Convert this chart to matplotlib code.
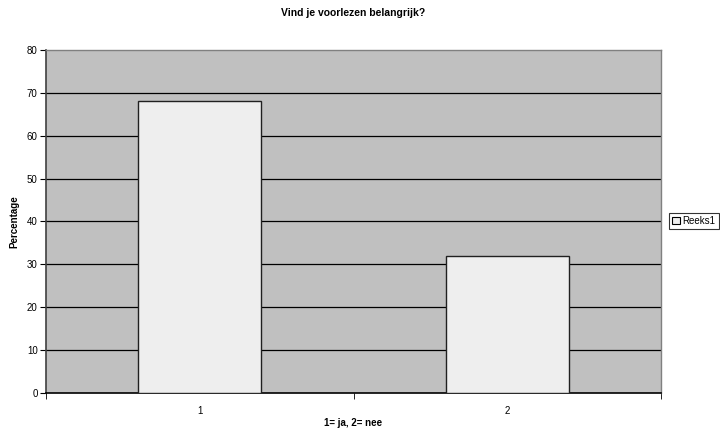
import matplotlib
matplotlib.use("Agg")
import matplotlib.pyplot as plt
from matplotlib.patches import Patch

plt.rcParams['font.family'] = ['Liberation Sans', 'DejaVu Sans']

categories = ["1", "2"]
values = [68, 32]
series_name = "Reeks1"
y_ticks = [0, 10, 20, 30, 40, 50, 60, 70, 80]

fig = plt.figure(figsize=(7.2, 4.32), dpi=100)
ax = fig.add_axes([46/720, 39/432, 615/720, 343/432])
ax.set_facecolor('#C0C0C0')

xpos = list(range(1, len(categories) + 1))
ax.bar(xpos, values, width=0.4, color='#EEEEEE', edgecolor='#202020',
       linewidth=1.0, zorder=3)

ax.set_xlim(0.5, len(categories) + 0.5)
ax.set_ylim(0, 80)
ax.set_yticks(y_ticks)
ax.set_yticklabels([str(v) for v in y_ticks], fontsize=7)
for v in y_ticks[1:-1]:
    ax.axhline(v, color='black', linewidth=0.9, zorder=1)

# category labels at centres, tick marks at boundaries
ax.set_xticks(xpos)
ax.set_xticklabels(categories, fontsize=7)
ax.tick_params(axis='x', length=0, pad=9)
ax.set_xticks([0.5 + i for i in range(len(categories) + 1)], minor=True)
ax.tick_params(axis='x', which='minor', length=4, direction='out', color='black')
ax.tick_params(axis='y', length=4, direction='out', pad=2)

for side in ['top', 'right']:
    ax.spines[side].set_color('#808080')
    ax.spines[side].set_linewidth(1.0)
ax.spines['left'].set_color('#404040')
ax.spines['left'].set_linewidth(1.2)
ax.spines['bottom'].set_color('black')
ax.spines['bottom'].set_linewidth(1.2)

fig.text(0.5 * (46 + 661) / 720, 1 - 13/432, "Vind je voorlezen belangrijk?",
         fontsize=7.5, fontweight='bold', ha='center', va='center')
fig.text(14/720, 1 - 222/432, "Percentage", fontsize=7, fontweight='bold',
         rotation=90, ha='center', va='center')
fig.text(0.5 * (46 + 661) / 720, 1 - 423/432, "1= ja, 2= nee", fontsize=7,
         fontweight='bold', ha='center', va='center')

handles = [Patch(facecolor='#EEEEEE', edgecolor='black', linewidth=0.8, label=series_name)]
leg = fig.legend(handles=handles, loc='center left', bbox_to_anchor=(669/720, 1 - 221/432),
                 fontsize=7, frameon=True, fancybox=False, handlelength=0.8, handleheight=0.8,
                 handletextpad=0.3, borderpad=0.3, borderaxespad=0)
leg.get_frame().set_edgecolor('black')
leg.get_frame().set_linewidth(0.8)

fig.savefig("out.png", dpi=100)
